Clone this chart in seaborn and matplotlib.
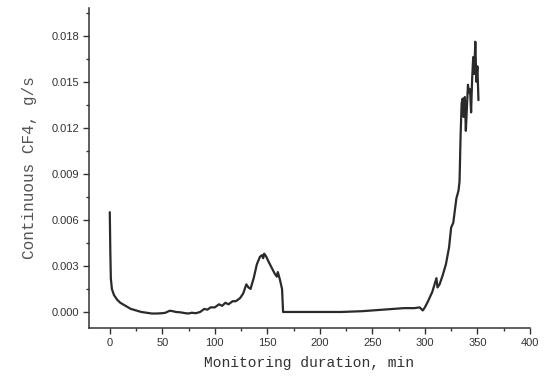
import matplotlib
matplotlib.use("Agg")
import matplotlib.pyplot as plt
import seaborn as sns
import pandas as pd
from matplotlib.ticker import MultipleLocator, AutoMinorLocator

time_min = [0, 0.5, 1, 2, 4, 7, 10, 15, 20, 25, 30, 35, 40, 45, 50, 53, 57, 60, 63, 67,
            72, 75, 78, 82, 86, 90, 93, 96, 100, 104, 107, 110, 113, 117, 120, 124, 127,
            130, 132, 134, 137, 140, 143, 145, 146, 147, 149, 151, 154, 157, 159, 160, 162,
            164, 165, 170, 180, 200, 220, 240, 250, 260, 270, 280, 290, 295, 298, 300, 303,
            307, 311, 312, 314, 317, 320, 323, 325, 327, 330, 332, 333, 334, 335, 336, 337,
            338, 339, 340, 341, 342, 343, 344, 345, 346, 347, 348, 349, 350, 351]
cf4_gs = [0.0065, 0.0040, 0.0022, 0.0015, 0.0011, 0.0008, 0.0006, 0.0004, 0.0002, 0.0001,
          0.0, -0.00005, -0.0001, -0.0001, -0.00008, -0.00005, 0.00008, 0.00005, 0.0, -0.00002,
          -0.00008, -0.0001, -0.00005, -0.00008, 0.0, 0.0002, 0.00015, 0.0003, 0.0003, 0.0005,
          0.0004, 0.0006, 0.0005, 0.0007, 0.0007, 0.0009, 0.0012, 0.0018, 0.0016, 0.0015,
          0.0022, 0.0031, 0.0036, 0.0037, 0.0035, 0.0038, 0.0036, 0.0033, 0.0029, 0.0025,
          0.0023, 0.0026, 0.0021, 0.0015, 0.0, 0.0, 0.0, 0.0, 0.0, 0.00005, 0.0001, 0.00015,
          0.0002, 0.00025, 0.00025, 0.0003, 0.0001, 0.0003, 0.0007, 0.0013, 0.0022, 0.0016,
          0.0018, 0.0024, 0.0031, 0.0042, 0.0055, 0.0058, 0.0074, 0.0079, 0.0085, 0.0115,
          0.0136, 0.0139, 0.0127, 0.0140, 0.0118, 0.0133, 0.0148, 0.0143, 0.0145, 0.0130,
          0.0152, 0.0166, 0.0155, 0.0176, 0.0150, 0.0160, 0.0138]

x_ticks = [0, 50, 100, 150, 200, 250, 300, 350, 400]
y_ticks = [0.000, 0.003, 0.006, 0.009, 0.012, 0.015, 0.018]
y_tick_labels = ["0.000", "0.003", "0.006", "0.009", "0.012", "0.015", "0.018"]

df = pd.DataFrame({"t": time_min, "v": cf4_gs})

sns.set_theme(style="ticks")
plt.rcParams["font.family"] = ["Liberation Sans", "DejaVu Sans"]

fig = plt.figure(figsize=(5.48, 3.8), dpi=100)
ax = fig.add_axes([0.162, 0.137, 0.805, 0.842])
sns.lineplot(data=df, x="t", y="v", ax=ax, color="#2a2a2a", linewidth=1.6,
             sort=False, estimator=None)

ax.set_xlim(-20, 400)
ax.set_ylim(-0.00104, 0.0198)
ax.set_xticks(x_ticks)
ax.set_xticklabels([str(v) for v in x_ticks])
ax.set_yticks(y_ticks)
ax.set_yticklabels(y_tick_labels)
ax.xaxis.set_minor_locator(AutoMinorLocator(2))
ax.yaxis.set_minor_locator(AutoMinorLocator(2))
ax.tick_params(axis="both", which="major", direction="out", length=4, width=1,
               labelsize=8, colors="#333333", pad=3)
ax.tick_params(axis="both", which="minor", direction="out", length=2.5, width=1,
               colors="#333333")
for s in ["top", "right"]:
    ax.spines[s].set_visible(False)
for s in ["left", "bottom"]:
    ax.spines[s].set_color("#333333")
    ax.spines[s].set_linewidth(1.1)

ax.set_xlabel("Monitoring duration, min", fontsize=10.5, family="Liberation Mono",
              color="#333333", labelpad=6)
ax.set_ylabel("Continuous CF4, g/s", fontsize=11.5, family="Liberation Mono",
              color="#555555", labelpad=10)

fig.savefig("out.png", dpi=100)
